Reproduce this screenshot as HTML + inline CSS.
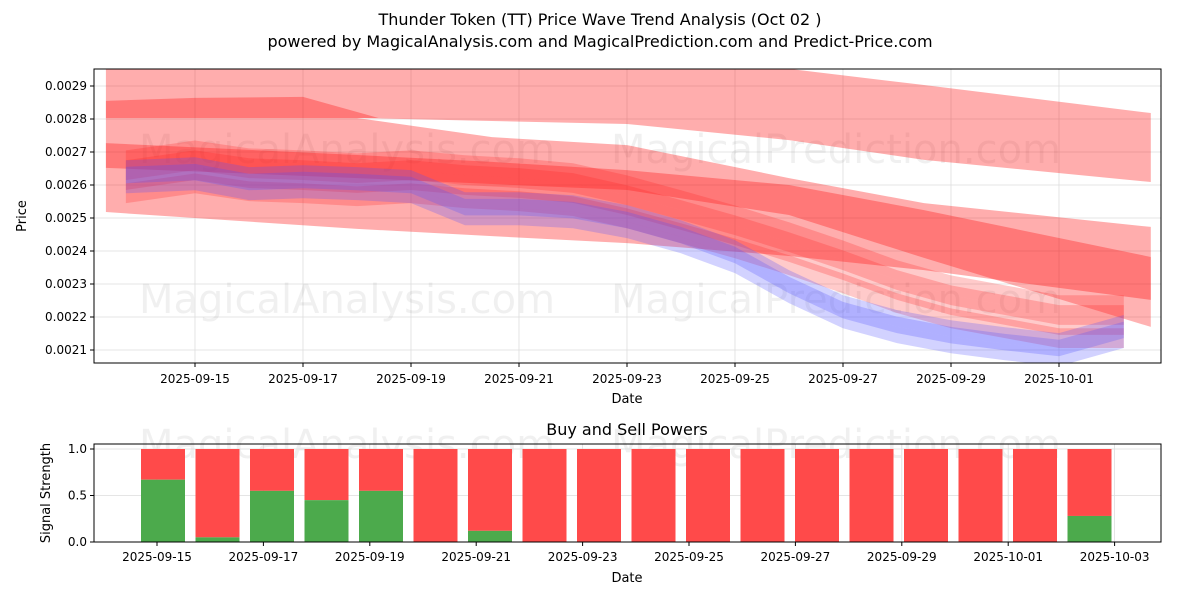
<!DOCTYPE html>
<html><head><meta charset="utf-8"><style>
body{margin:0;background:#fff;font-family:"Liberation Sans","DejaVu Sans",sans-serif;}
svg text{font-family:"DejaVu Sans","Liberation Sans",sans-serif;}
</style></head><body>
<svg id="c" width="1200" height="600" viewBox="0 0 1200 600" xmlns="http://www.w3.org/2000/svg">
<text x="600" y="25" text-anchor="middle" font-size="16" fill="#000">Thunder Token (TT) Price Wave Trend Analysis (Oct 02 )</text>
<text x="600" y="47" text-anchor="middle" font-size="16" fill="#000">powered by MagicalAnalysis.com and MagicalPrediction.com and Predict-Price.com</text>
<defs><clipPath id="cp1"><rect x="94" y="69" width="1067" height="294"/></clipPath></defs>
<g id="topPanel"></g>
<g id="botPanel"></g>
</svg>
<script>
// ---- data ----
const tickDates = ["2025-09-15","2025-09-17","2025-09-19","2025-09-21","2025-09-23","2025-09-25","2025-09-27","2025-09-29","2025-10-01"];
const tickDays = [2,4,6,8,10,12,14,16,18];
const priceTicks = [0.0021,0.0022,0.0023,0.0024,0.0025,0.0026,0.0027,0.0028,0.0029];
const wideDays = [0.35,5,7.5,10,13,15.5,19.7];
const topUpper = [0.003055,0.002994,0.002973,0.002961,0.002952,0.002903,0.002818];
const topLower = [0.002803,0.002803,0.002794,0.002785,0.002736,0.002676,0.002609];
const band2Upper = [0.002803,0.002803,0.002745,0.002721,0.002621,0.002545,0.002473];
const band2Lower = [0.002518,0.002467,0.002445,0.002424,0.002385,0.002342,0.002252];
const band3Upper = [0.002727,0.002691,0.002670,0.002645,0.002600,0.002524,0.002382];
const band3Lower = [0.002652,0.002621,0.002603,0.002585,0.002509,0.002379,0.002170];
const stripeDays = [0.35,2,4,5.4];
const stripeUpper = [0.002855,0.002864,0.002867,0.002803];
const stripeLower = [0.002803,0.002803,0.002803,0.002803];
const waveDays = [0.72,2,3,4,5,6,7,8,9,10,11,12,13,14,15,16,17,18,19.2];
const bluePrice = [0.002630,0.002639,0.002609,0.002615,0.002609,0.002600,0.002533,0.002533,0.002524,0.002494,0.002448,0.002388,0.002297,0.002221,0.002176,0.002145,0.002124,0.002106,0.002161];
const redPrice = [0.002615,0.002645,0.002621,0.002615,0.002606,0.002615,0.002600,0.002591,0.002576,0.002539,0.002494,0.002448,0.002397,0.002342,0.002282,0.002236,0.002206,0.002176,0.002176];
const barDates = ["09-15","09-16","09-17","09-18","09-19","09-20","09-21","09-22","09-23","09-24","09-25","09-26","09-27","09-28","09-29","09-30","10-01","10-02"];
const buyPower = [0.67,0.05,0.55,0.45,0.55,0,0.12,0,0,0,0,0,0,0,0,0,0,0.28];
const botTickLabels = ["2025-09-15","2025-09-17","2025-09-19","2025-09-21","2025-09-23","2025-09-25","2025-09-27","2025-09-29","2025-10-01","2025-10-03"];
const botTickDays = [0,2,4,6,8,10,12,14,16,18];
const strengthTicks = [0,0.5,1.0];

const NS="http://www.w3.org/2000/svg";
function mk(tag,attrs,parent){const e=document.createElementNS(NS,tag);for(const k in attrs)e.setAttribute(k,attrs[k]);parent.appendChild(e);return e;}
const topG=document.getElementById('topPanel'), botG=document.getElementById('botPanel');
const X=d=>87+54*d;
const Y=p=>86+(0.0029-p)/0.0001*33;
const XB=i=>163+54.5*i;
const XT=d=>157+53.2*d;
const YB=v=>542-v*93;

tickDays.forEach((d,i)=>{
  const l=mk('line',{x1:X(d),x2:X(d),y1:69,y2:363,stroke:'#ddd','stroke-width':0.8},topG);
  
  
  mk('line',{x1:X(d),x2:X(d),y1:363,y2:367,stroke:'#000'},topG);
  const tx=mk('text',{x:X(d),y:383,'text-anchor':'middle','font-size':12},topG);
  tx.textContent=tickDates[i];
  
  
});
priceTicks.forEach(p=>{
  const l=mk('line',{x1:94,x2:1161,y1:Y(p),y2:Y(p),stroke:'#ddd','stroke-width':0.8},topG);
  
  
  mk('line',{x1:90,x2:94,y1:Y(p),y2:Y(p),stroke:'#000'},topG);
  const tx=mk('text',{x:87,y:Y(p)+4,'text-anchor':'end','font-size':12},topG);
  tx.textContent=p.toFixed(4);
  
  
});
[[347,163,'MagicalAnalysis.com'],[836,163,'MagicalPrediction.com'],[347,313,'MagicalAnalysis.com'],[836,313,'MagicalPrediction.com'],[347,458,'MagicalAnalysis.com'],[836,458,'MagicalPrediction.com']].forEach(w=>{
  const t=mk('text',{x:w[0],y:w[1],'text-anchor':'middle','font-size':40,fill:'#000','fill-opacity':0.06},w[1]>400?botG:topG);
  t.textContent=w[2];
  
  
});
const g=mk('g',{'clip-path':'url(#cp1)'},topG);
function band(days,up,lo,fill,op,name,off){
  off=off||0;
  let pts=days.map((d,i)=>X(d)+','+Y(up[i]+off));
  for(let i=days.length-1;i>=0;i--)pts.push(X(days[i])+','+Y(lo[i]+off));
  const p=mk('polygon',{points:pts.join(' '),fill:fill,'fill-opacity':op},g);
  
  
}
band(wideDays,topUpper,topLower,'#ff0000',0.32,'upper-forecast-band');
band(stripeDays,stripeUpper,stripeLower,'#ff0000',0.3,'upper-stripe-band');
band(wideDays,band2Upper,band2Lower,'#ff0000',0.32,'mid-forecast-band');
band(wideDays,band3Upper,band3Lower,'#ff0000',0.3,'main-forecast-band');
[-0.00004,0,0.00003,0.00006].forEach(o=>{
  band(waveDays,redPrice.map(v=>v+0.00003),redPrice.map(v=>v-0.00003),'#ff2020',0.24,'red-wave-band',o);
});
[-0.00003,0,0.00002].forEach(o=>{
  band(waveDays,bluePrice.map(v=>v+0.000025),bluePrice.map(v=>v-0.000025),'#5050ff',0.26,'blue-wave-band',o);
});
const fr=mk('rect',{x:94,y:69,width:1067,height:294,fill:'none',stroke:'#000','stroke-width':1},topG);


let t;
t=mk('text',{x:627,y:403,'text-anchor':'middle','font-size':13},topG);t.textContent='Date';


t=mk('text',{x:26,y:216,'text-anchor':'middle','font-size':13,transform:'rotate(-90 26 216)'},topG);t.textContent='Price';



t=mk('text',{x:627,y:435,'text-anchor':'middle','font-size':16},botG);t.textContent='Buy and Sell Powers';


strengthTicks.forEach(v=>{
  const l=mk('line',{x1:94,x2:1161,y1:YB(v),y2:YB(v),stroke:'#ddd','stroke-width':0.8},botG);
  
  
  mk('line',{x1:90,x2:94,y1:YB(v),y2:YB(v),stroke:'#000'},botG);
  const tx=mk('text',{x:87,y:YB(v)+4,'text-anchor':'end','font-size':12},botG);
  tx.textContent=v.toFixed(1);
  
  
});
botTickDays.forEach((d,i)=>{
  const l=mk('line',{x1:XT(d),x2:XT(d),y1:444,y2:542,stroke:'#ddd','stroke-width':0.8},botG);
  
  
  mk('line',{x1:XT(d),x2:XT(d),y1:542,y2:546,stroke:'#000'},botG);
  const tx=mk('text',{x:XT(d),y:561,'text-anchor':'middle','font-size':12},botG);
  tx.textContent=botTickLabels[i];
  
  
});
buyPower.forEach((v,i)=>{
  const r=mk('rect',{x:XB(i)-22,y:YB(1),width:44,height:YB(v)-YB(1),fill:'#ff4a4a'},botG);
  
  
  const gr=mk('rect',{x:XB(i)-22,y:YB(v),width:44,height:YB(0)-YB(v),fill:'#4caa4c'},botG);
  
  
});
const fr2=mk('rect',{x:94,y:444,width:1067,height:98,fill:'none',stroke:'#000','stroke-width':1},botG);


t=mk('text',{x:627,y:582,'text-anchor':'middle','font-size':13},botG);t.textContent='Date';


t=mk('text',{x:50,y:493,'text-anchor':'middle','font-size':13,transform:'rotate(-90 50 493)'},botG);t.textContent='Signal Strength';


</script>
</body></html>
